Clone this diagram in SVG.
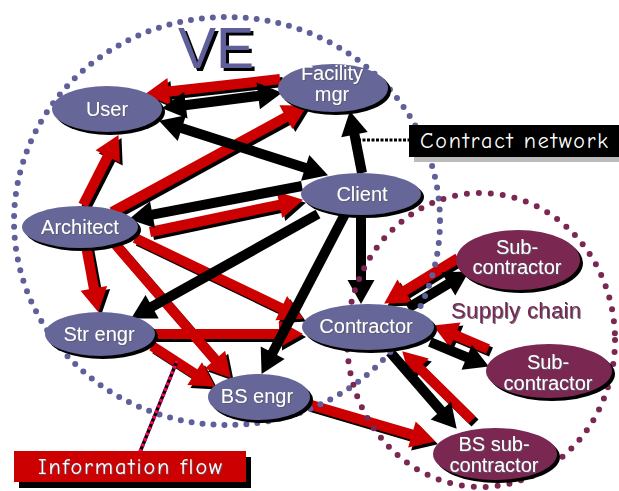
<svg xmlns="http://www.w3.org/2000/svg" width="619" height="491" viewBox="0 0 619 491">
  <defs>
    <style>
      .node { fill: #666699; }
      .sub { fill: #7a2752; }
      .nshadow { fill: #000; }
      .lbl { font-family: "Liberation Sans", Arial, sans-serif; font-size: 20px; fill: #fff; text-anchor: middle; }
      .red { stroke: #cc0000; stroke-width: 10; fill: none; marker-end: url(#headR); }
      .blk { stroke: #000; stroke-width: 10; fill: none; marker-end: url(#headK); }
      .blk2 { marker-start: url(#headK); }
      .ring { fill: none; stroke-width: 6; stroke-linecap: round; }
      .caption { font-family: "Comic Neue", "DejaVu Sans", sans-serif; font-size: 22px; fill: #fff; }
    </style>
    <marker id="headR" markerUnits="userSpaceOnUse" markerWidth="30" markerHeight="30" refX="3" refY="0" viewBox="0 -15 26 30" orient="auto-start-reverse" overflow="visible">
      <path d="M0,-13.5 L24,0 L0,13.5 Z" fill="#cc0000"/>
    </marker>
    <marker id="headK" markerUnits="userSpaceOnUse" markerWidth="30" markerHeight="30" refX="3" refY="0" viewBox="0 -15 26 30" orient="auto-start-reverse" overflow="visible">
      <path d="M0,-13.5 L24,0 L0,13.5 Z" fill="#000"/>
    </marker>
    <filter id="drop" x="-10%" y="-10%" width="120%" height="120%">
      <feOffset in="SourceAlpha" dx="3" dy="3" result="off"/>
      <feMerge><feMergeNode in="off"/><feMergeNode in="SourceGraphic"/></feMerge>
    </filter>
    <filter id="tdrop" x="-10%" y="-20%" width="120%" height="140%">
      <feOffset in="SourceAlpha" dx="1.2" dy="1.2" result="off"/>
      <feColorMatrix in="off" type="matrix" values="0 0 0 0 0.1  0 0 0 0 0.1  0 0 0 0 0.15  0 0 0 0.9 0" result="sh"/>
      <feMerge><feMergeNode in="sh"/><feMergeNode in="SourceGraphic"/></feMerge>
    </filter>
  </defs>

  <rect width="619" height="491" fill="#fff"/>

  <!-- connectors: red = information flow, black = contract network -->
  <g id="connectors">
    <g id="info-flow" filter="url(#drop)">
      <line class="red" x1="280" y1="79" x2="165.9" y2="91.8"/>
      <line class="red" x1="83" y1="205" x2="109" y2="153.8"/>
      <line class="red" x1="112" y1="212" x2="288.5" y2="115.6"/>
      <line class="red" x1="150" y1="232" x2="282.4" y2="204.1"/>
      <line class="red" x1="86" y1="246" x2="94.4" y2="291.3"/>
      <line class="red" x1="115" y1="244" x2="216.9" y2="361.9"/>
      <line class="red" x1="135" y1="238" x2="284" y2="309.4"/>
      <line class="red" x1="153" y1="334" x2="282" y2="334"/>
      <line class="red" x1="152" y1="346" x2="197.2" y2="375.2"/>
      <line class="red" x1="308" y1="404" x2="414.8" y2="435.4"/>
      <line class="red" x1="458" y1="258" x2="402" y2="292.5"/>
      <line class="red" x1="488" y1="349" x2="452.4" y2="333.8"/>
      <line class="red" x1="472" y1="420" x2="417.2" y2="366"/>
    </g>
    <g id="contracts">
      <line class="blk blk2" x1="182.8" y1="105.5" x2="261.2" y2="95.5"/>
      <line class="blk blk2" x1="179" y1="127.2" x2="308" y2="168.8"/>
      <line class="blk" x1="362" y1="173" x2="353.9" y2="131.6"/>
      <line class="blk" x1="302" y1="186" x2="149.6" y2="215.2"/>
      <line class="blk" x1="318" y1="214" x2="149.5" y2="308.2"/>
      <line class="blk" x1="345" y1="214" x2="271.3" y2="355.3"/>
      <line class="blk" x1="361" y1="214" x2="361" y2="283"/>
      <line class="blk" x1="408" y1="308" x2="450.9" y2="282.3"/>
      <line class="blk" x1="430" y1="342" x2="469.5" y2="358.4"/>
      <line class="blk" x1="390" y1="352" x2="442.9" y2="412.9"/>
    </g>
  </g>

  <!-- group boundaries -->
  <g id="boundaries">
    <ellipse class="ring" cx="227" cy="221" rx="213" ry="204" stroke="#5f5f99" stroke-dasharray="0 11"/>
    <ellipse class="ring" cx="481" cy="340" rx="134" ry="147" stroke="#7a2752" stroke-dasharray="0 12"/>
  </g>

  <!-- group titles -->
  <text x="216" y="68" font-family="Liberation Sans, Arial, sans-serif" font-size="57" fill="#5f5f99" text-anchor="middle" filter="url(#drop)">VE</text>
  <text x="516" y="318" font-family="Liberation Sans, Arial, sans-serif" font-size="22" fill="#7a2752" text-anchor="middle" textLength="130" filter="url(#tdrop)">Supply chain</text>

  <!-- nodes -->
  <g id="user">
    <ellipse class="nshadow" cx="110" cy="112" rx="55" ry="23"/>
    <ellipse class="node" cx="107" cy="109" rx="55" ry="23"/>
    <text class="lbl" x="107" y="116" filter="url(#tdrop)">User</text>
  </g>
  <g id="facility-mgr">
    <ellipse class="nshadow" cx="336" cy="91" rx="55" ry="24"/>
    <ellipse class="node" cx="333" cy="88" rx="55" ry="24"/>
    <text class="lbl" x="332" y="80" font-size="19" filter="url(#tdrop)">Facility</text>
    <text class="lbl" x="332" y="101" font-size="19" filter="url(#tdrop)">mgr</text>
  </g>
  <g id="architect">
    <ellipse class="nshadow" cx="83" cy="230" rx="58" ry="21"/>
    <ellipse class="node" cx="80" cy="227" rx="58" ry="21"/>
    <text class="lbl" x="80" y="234" filter="url(#tdrop)">Architect</text>
  </g>
  <g id="client">
    <ellipse class="nshadow" cx="364" cy="197" rx="60" ry="21"/>
    <ellipse class="node" cx="361" cy="194" rx="60" ry="21"/>
    <text class="lbl" x="362" y="201" filter="url(#tdrop)">Client</text>
  </g>
  <g id="str-engr">
    <ellipse class="nshadow" cx="103" cy="337" rx="55" ry="22"/>
    <ellipse class="node" cx="100" cy="334" rx="55" ry="22"/>
    <text class="lbl" x="99" y="341" filter="url(#tdrop)">Str engr</text>
  </g>
  <g id="contractor">
    <ellipse class="nshadow" cx="371" cy="330" rx="66" ry="23"/>
    <ellipse class="node" cx="368" cy="327" rx="66" ry="23"/>
    <text class="lbl" x="366" y="333" filter="url(#tdrop)">Contractor</text>
  </g>
  <g id="bs-engr">
    <ellipse class="nshadow" cx="262" cy="400" rx="51" ry="23"/>
    <ellipse class="node" cx="259" cy="397" rx="51" ry="23"/>
    <text class="lbl" x="257" y="403" filter="url(#tdrop)">BS engr</text>
  </g>
  <g id="sub-contractor-1">
    <ellipse class="nshadow" cx="521" cy="263" rx="62" ry="30"/>
    <ellipse class="sub" cx="518" cy="260" rx="62" ry="30"/>
    <text class="lbl" x="517" y="254" filter="url(#tdrop)">Sub-</text>
    <text class="lbl" x="517" y="274" filter="url(#tdrop)">contractor</text>
  </g>
  <g id="sub-contractor-2">
    <ellipse class="nshadow" cx="552" cy="374" rx="63" ry="27"/>
    <ellipse class="sub" cx="549" cy="371" rx="63" ry="27"/>
    <text class="lbl" x="548" y="369" filter="url(#tdrop)">Sub-</text>
    <text class="lbl" x="548" y="390" filter="url(#tdrop)">contractor</text>
  </g>
  <g id="bs-sub-contractor">
    <ellipse class="nshadow" cx="498" cy="457" rx="62" ry="26"/>
    <ellipse class="sub" cx="495" cy="454" rx="62" ry="26"/>
    <text class="lbl" x="494" y="451" filter="url(#tdrop)">BS sub-</text>
    <text class="lbl" x="494" y="472" filter="url(#tdrop)">contractor</text>
  </g>

  <!-- legend: contract network -->
  <g id="legend-contract">
    <line x1="358" y1="140" x2="410" y2="140" stroke="#000" stroke-width="3" stroke-dasharray="3 1.5"/>
    <rect x="414" y="130" width="210" height="32" fill="#bbbbbb"/>
    <rect x="409" y="125" width="210" height="32" fill="#000"/>
    <text class="caption" x="420" y="148" textLength="188">Contract network</text>
  </g>

  <!-- legend: information flow -->
  <g id="legend-info">
    <line x1="140" y1="452" x2="177" y2="361" stroke="#000" stroke-width="3.5"/>
    <line x1="140" y1="452" x2="177" y2="361" stroke="#ff0066" stroke-width="3.5" stroke-dasharray="3 3"/>
    <rect x="19" y="457" width="232" height="31" fill="#000"/>
    <rect x="14" y="451" width="232" height="31" fill="#cc0000"/>
    <text class="caption" x="38" y="474" textLength="184" filter="url(#tdrop)">Information flow</text>
  </g>
</svg>
